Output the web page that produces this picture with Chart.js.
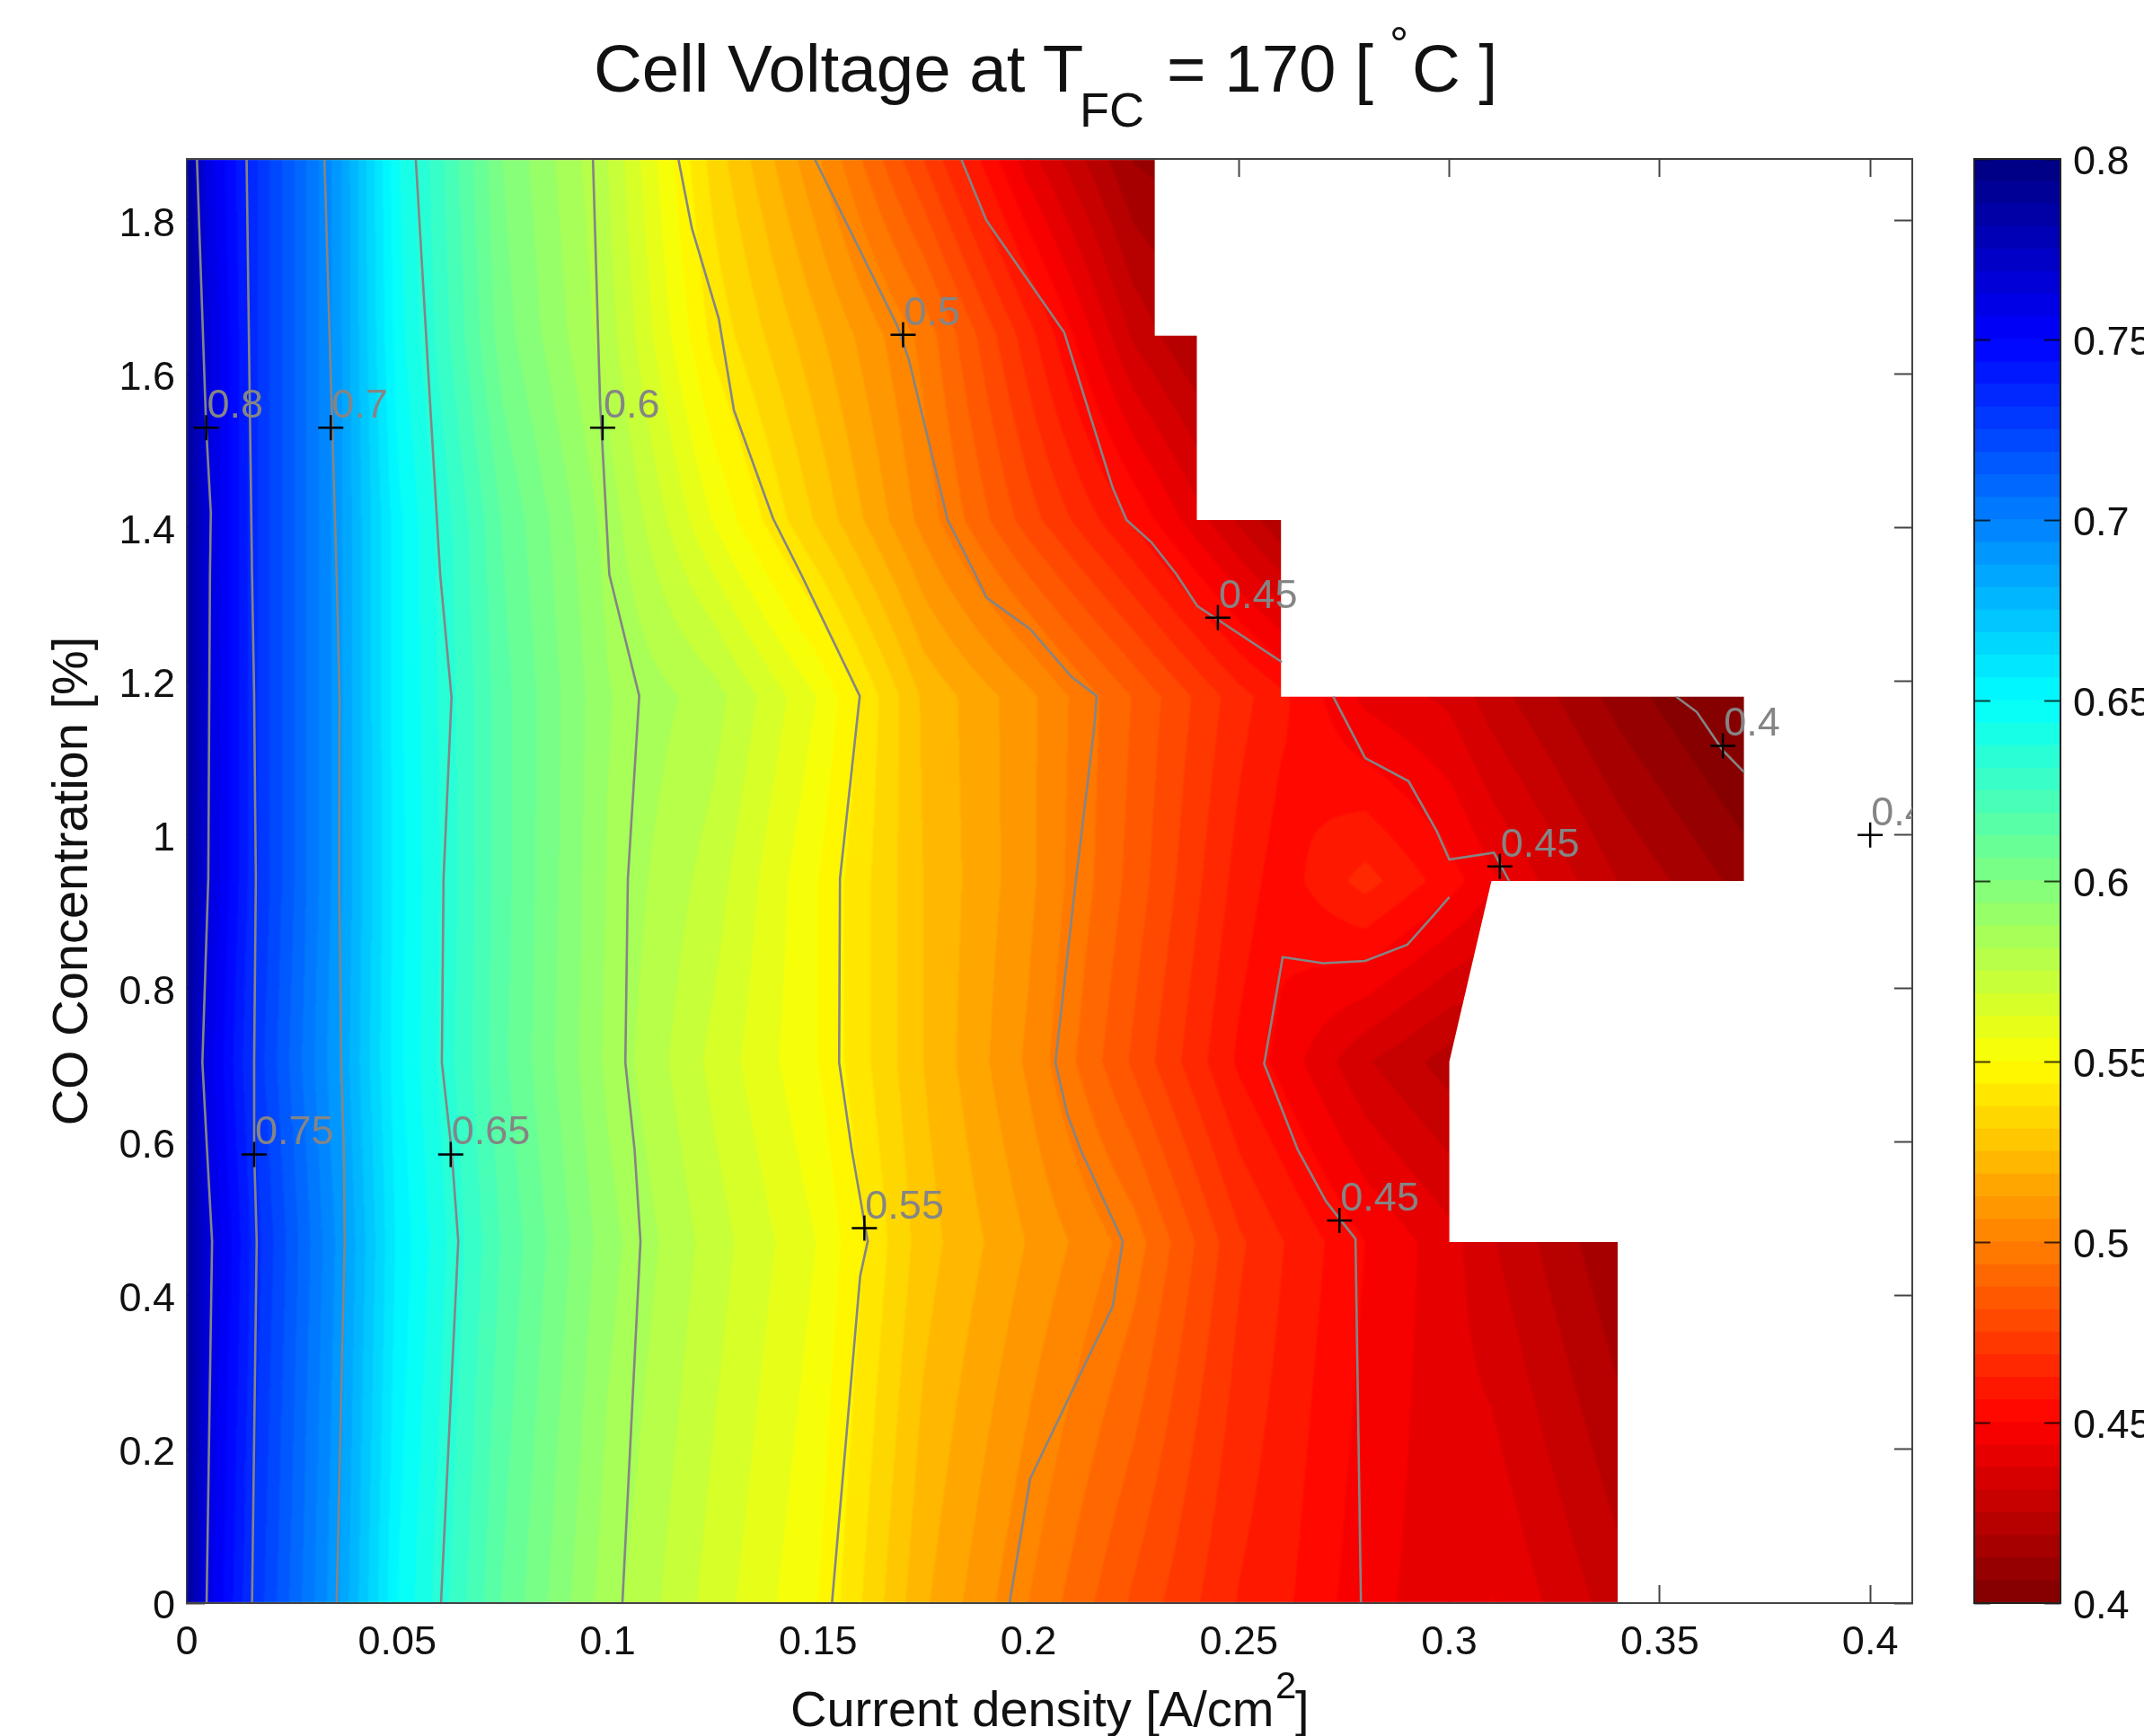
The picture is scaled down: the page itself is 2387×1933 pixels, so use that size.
<!DOCTYPE html>
<html>
<head>
<meta charset="utf-8">
<title>Cell Voltage at TFC = 170 C</title>
<script src="https://cdn.jsdelivr.net/npm/chart.js@4/dist/chart.umd.min.js"></script>
<style>
html,body{margin:0;padding:0;background:#fff;width:2387px;height:1933px;overflow:hidden;}
canvas{position:absolute;top:0;}
#contourChart{left:0;}
#colorbarChart{left:2180px;}
.txt{position:absolute;font-family:"Liberation Sans",Arial,sans-serif;color:#111;white-space:pre;line-height:normal;}
</style>
</head>
<body>
<canvas id="contourChart" width="2387" height="1933"></canvas>
<canvas id="colorbarChart" width="207" height="1933"></canvas>

<div class="txt" style="left:661px;top:34px;font-size:74.5px;">Cell Voltage at T</div>
<div class="txt" style="left:1202px;top:91px;font-size:54px;">FC</div>
<div class="txt" style="left:1299px;top:34px;font-size:74.5px;">= 170 [</div>
<div class="txt" style="left:1547px;top:19px;font-size:53px;">°</div>
<div class="txt" style="left:1572px;top:34px;font-size:74.5px;">C ]</div>

<div class="txt" style="left:880px;top:1870px;font-size:56px;">Current density [A/cm</div>
<div class="txt" style="left:1420px;top:1853px;font-size:42px;">2</div>
<div class="txt" style="left:1442px;top:1870px;font-size:56px;">]</div>

<script>
//current density columns of the voltage table
var currentDensity=[0,.005,.016,.036,.05,.075,.10,.125,.15,.175,.20,.225,.25,.26,.28,.30,.31,.34,.37];
//CO concentration rows of the voltage table
var coConcentration=[0,.47,.705,.94,1.18,1.41,1.65,1.88];
var voltageCo000=[.79,.76,.73,.688,.65,.612,.584,.566,.55,.52,.50,.48,.462,.458,.446,.44,.444,.428,.428];
var voltageCo047=[.79,.765,.735,.692,.655,.618,.59,.572,.556,.528,.512,.497,.47,.463,.45,.44,.432,.413,.413];
var voltageCo070=[.79,.76,.73,.688,.652,.614,.586,.567,.55,.525,.505,.48,.455,.448,.432,.422,.422,.422,.422];
var voltageCo094=[.79,.765,.733,.69,.653,.615,.587,.572,.55,.525,.508,.485,.46,.453,.465,.453,.445,.425,.41];
var voltageCo118=[.79,.765,.733,.69,.652,.615,.588,.578,.556,.524,.508,.487,.465,.458,.442,.436,.428,.41,.395];
var voltageCo141=[.79,.765,.733,.69,.652,.612,.585,.556,.53,.504,.478,.455,.43,.42,.41,.41,.41,.41,.41];
var voltageCo165=[.79,.765,.733,.69,.647,.603,.578,.542,.52,.498,.465,.43,.41,.41,.41,.41,.41,.41,.41];
var voltageCo188=[.79,.76,.733,.69,.645,.60,.575,.535,.507,.475,.44,.412,.405,.405,.405,.405,.405,.405,.405];
var voltageRows=[voltageCo000,voltageCo047,voltageCo070,voltageCo094,voltageCo118,voltageCo141,voltageCo165,voltageCo188];

//outline of the measured area, everything outside stays white
var measuredArea=[[0,0],[.34,0],[.34,.47],[.30,.47],[.30,.705],[.31,.94],[.37,.94],[.37,1.18],[.26,1.18],[.26,1.41],[.24,1.41],[.24,1.65],[.23,1.65],[.23,1.88],[0,1.88]];

//contour lines
var contour080=[[.0047,0],[.006,.471],[.0048,.59],[.0037,.704],[.0051,.943],[.0055,1.339],[.0057,1.42],[.0046,1.53],[.0024,1.88]];
var contour075=[[.0155,0],[.0166,.471],[.016,.59],[.016,.704],[.0164,.943],[.016,1.18],[.0155,1.339],[.0142,1.88]];
var contour070=[[.0356,0],[.0375,.471],[.0373,.59],[.0367,.704],[.0362,.943],[.0363,1.18],[.0356,1.339],[.0327,1.88]];
var contour065=[[.0604,0],[.0645,.471],[.0629,.59],[.0606,.704],[.061,.943],[.0629,1.179],[.0602,1.339],[.0544,1.88]];
var contour060=[[.1035,0],[.1078,.471],[.1064,.59],[.1042,.704],[.1048,.943],[.1075,1.181],[.1004,1.339],[.0982,1.563],[.0965,1.88]];
var contour055=[[.1533,0],[.16,.426],[.1618,.471],[.158,.59],[.155,.704],[.1552,.943],[.1599,1.181],[.146,1.339],[.1393,1.412],[.13,1.553],[.1264,1.672],[.12,1.79],[.1168,1.88]];
var contour050=[[.1955,0],[.2004,.162],[.22,.386],[.2224,.471],[.2124,.59],[.2092,.637],[.2064,.704],[.2113,.943],[.2156,1.139],[.2162,1.181],[.2102,1.206],[.2004,1.268],[.19,1.309],[.1874,1.339],[.1808,1.41],[.1716,1.618],[.1688,1.663],[.1492,1.88]];
var contour045low=[[.279,0],[.2777,.474],[.2707,.523],[.264,.59],[.256,.702],[.2604,.841],[.27,.833],[.28,.836],[.29,.857],[.297,.90],[.30,.919]];
var contour045mid=[[.2724,1.18],[.28,1.10],[.2903,1.07],[.297,1.005],[.30,.968],[.3106,.977],[.3142,.94]];
var contour045top=[[.184,1.88],[.19,1.80],[.2085,1.654],[.22,1.452],[.2233,1.41],[.2292,1.381],[.2352,1.339],[.2401,1.298],[.2602,1.225]];
var contour040=[[.3539,1.18],[.3588,1.16],[.365,1.11],[.37,1.082]];
var contourLines=[contour080,contour075,contour070,contour065,contour060,contour055,contour050,contour045low,contour045mid,contour045top,contour040];

//contour labels and the + that marks each of them
var labelX=[.0046,.0342,.0988,.1702,.245,.365,.312,.4,.016,.0627,.161,.2739];
var labelY=[1.53,1.53,1.53,1.651,1.283,1.116,.959,1.0,.584,.584,.488,.498];
var labelText=["0.8","0.7","0.6","0.5","0.45","0.4","0.45","0.4","0.75","0.65","0.55","0.45"];

//tick settings of the axes
var xMax=.41;
var yMax=1.88;
var voltageMin=.4;
var voltageMax=.8;
var levelCount=64;

var fontName='"Liberation Sans", Arial, sans-serif';

function clamp01(a){
    return Math.max(0,Math.min(1,a));
}

//flipped jet colormap, low voltage dark red and high voltage dark blue
function jetColor(level){
    var p=1-(level+.5)/levelCount;
    return [
        Math.round(255*clamp01(1.5-Math.abs(4*p-3))),
        Math.round(255*clamp01(1.5-Math.abs(4*p-2))),
        Math.round(255*clamp01(1.5-Math.abs(4*p-1)))
    ];
}

function findSlot(list,value){
    for(var i=0;i<list.length-2;i++){
        if(value<list[i+1]){
            return i;
        }
    }
    return list.length-2;
}

//voltage at a position inside the table
function voltageAt(x,y){
    var i=findSlot(currentDensity,x);
    var j=findSlot(coConcentration,y);
    var u=(x-currentDensity[i])/(currentDensity[i+1]-currentDensity[i]);
    var v=(y-coConcentration[j])/(coConcentration[j+1]-coConcentration[j]);
    var low=voltageRows[j][i]*(1-u)+voltageRows[j][i+1]*u;
    var high=voltageRows[j+1][i]*(1-u)+voltageRows[j+1][i+1]*u;
    return low*(1-v)+high*v;
}

//paints the filled contour surface below the lines
var surfacePlugin={
    id:"surface",
    beforeDatasetsDraw:function(chart){
        var area=chart.chartArea;
        var xs=chart.scales.x;
        var ys=chart.scales.y;
        var w=Math.ceil(area.right-area.left);
        var h=Math.ceil(area.bottom-area.top);
        var off=document.createElement("canvas");
        off.width=w;
        off.height=h;
        var offCtx=off.getContext("2d");
        var img=offCtx.createImageData(w,h);
        var colors=[];
        for(var c=0;c<levelCount;c++){
            colors.push(jetColor(c));
        }
        var xValues=[];
        for(var px=0;px<w;px++){
            xValues.push(xs.getValueForPixel(area.left+px+.5));
        }
        for(var py=0;py<h;py++){
            var yValue=ys.getValueForPixel(area.top+py+.5);
            for(var qx=0;qx<w;qx++){
                var volt=voltageAt(xValues[qx],yValue);
                var level=Math.floor((volt-voltageMin)/(voltageMax-voltageMin)*levelCount);
                level=Math.max(0,Math.min(levelCount-1,level));
                var k=(py*w+qx)*4;
                img.data[k]=colors[level][0];
                img.data[k+1]=colors[level][1];
                img.data[k+2]=colors[level][2];
                img.data[k+3]=255;
            }
        }
        offCtx.putImageData(img,0,0);
        var ctx=chart.ctx;
        ctx.save();
        ctx.beginPath();
        for(var n=0;n<measuredArea.length;n++){
            var ax=xs.getPixelForValue(measuredArea[n][0]);
            var ay=ys.getPixelForValue(measuredArea[n][1]);
            if(n==0){
                ctx.moveTo(ax,ay);
            }
            else{
                ctx.lineTo(ax,ay);
            }
        }
        ctx.closePath();
        ctx.clip();
        ctx.filter="blur(1px)";
        ctx.drawImage(off,area.left,area.top);
        ctx.restore();
    }
};

//contour labels, cut off at the plot border like the 0.4 on the right
var labelPlugin={
    id:"contourLabels",
    afterDatasetsDraw:function(chart){
        var area=chart.chartArea;
        var ctx=chart.ctx;
        ctx.save();
        ctx.beginPath();
        ctx.rect(area.left,area.top,area.right-area.left,area.bottom-area.top);
        ctx.clip();
        ctx.font="45px "+fontName;
        ctx.fillStyle="#858585";
        ctx.textAlign="left";
        ctx.textBaseline="alphabetic";
        for(var i=0;i<labelText.length;i++){
            var x=chart.scales.x.getPixelForValue(labelX[i]);
            var y=chart.scales.y.getPixelForValue(labelY[i]);
            ctx.fillText(labelText[i],x+1,y-11);
        }
        ctx.restore();
    }
};

function toPoints(list){
    var points=[];
    for(var i=0;i<list.length;i++){
        points.push({x:list[i][0],y:list[i][1]});
    }
    return points;
}

function tickText(value){
    return String(Number(value.toFixed(2)));
}

function createContourChart(){
    var datasets=[];
    var markers=[];
    for(var i=0;i<labelX.length;i++){
        markers.push({x:labelX[i],y:labelY[i]});
    }
    datasets.push({
        label:"labels",
        data:markers,
        showLine:false,
        pointStyle:"cross",
        pointRadius:14,
        pointBorderColor:"#000",
        pointBorderWidth:2.5,
        pointBackgroundColor:"#000"
    });
    for(var c=0;c<contourLines.length;c++){
        datasets.push({
            label:"contour "+c,
            data:toPoints(contourLines[c]),
            showLine:true,
            pointRadius:0,
            borderColor:"#858585",
            borderWidth:2.6,
            tension:0
        });
    }
    var axisColor="#444";
    function innerGrid(){
        return {drawOnChartArea:false,drawTicks:true,tickLength:-20,tickColor:axisColor,tickWidth:2};
    }
    var axisBorder={color:axisColor,width:2,z:1};
    new Chart(document.getElementById("contourChart"),{
        type:"scatter",
        data:{datasets:datasets},
        plugins:[surfacePlugin,labelPlugin],
        options:{
            responsive:false,
            animation:false,
            devicePixelRatio:1,
            layout:{padding:{left:0,right:258,top:177,bottom:0}},
            plugins:{legend:{display:false},tooltip:{enabled:false},title:{display:false}},
            scales:{
                x:{
                    type:"linear",position:"bottom",min:0,max:xMax,
                    grid:innerGrid(),border:axisBorder,
                    ticks:{stepSize:.05,includeBounds:false,padding:38,maxRotation:0,autoSkip:false,color:"#111",font:{family:fontName,size:45},callback:tickText},
                    afterFit:function(scale){scale.height=148;}
                },
                y:{
                    type:"linear",position:"left",min:0,max:yMax,
                    grid:innerGrid(),border:{color:axisColor,width:2},
                    ticks:{stepSize:.2,includeBounds:false,padding:33,labelOffset:5,autoSkip:false,color:"#111",font:{family:fontName,size:45},callback:tickText},
                    title:{display:true,text:"CO Concentration [%]",color:"#111",font:{family:fontName,size:56},padding:{top:48,bottom:0}},
                    afterFit:function(scale){scale.width=208;}
                },
                xTop:{
                    type:"linear",position:"top",axis:"x",min:0,max:xMax,
                    grid:innerGrid(),border:axisBorder,
                    ticks:{stepSize:.05,includeBounds:false,display:false},
                    afterFit:function(scale){scale.height=0;}
                },
                yRight:{
                    type:"linear",position:"right",axis:"y",min:0,max:yMax,
                    grid:innerGrid(),border:{color:axisColor,width:2},
                    ticks:{stepSize:.2,includeBounds:false,display:false},
                    afterFit:function(scale){scale.width=0;}
                }
            }
        }
    });
}

//frame around the colour bar
var framePlugin={
    id:"frame",
    afterDraw:function(chart){
        var area=chart.chartArea;
        var ctx=chart.ctx;
        ctx.save();
        ctx.strokeStyle="#222";
        ctx.lineWidth=2;
        ctx.strokeRect(area.left,area.top,area.right-area.left,area.bottom-area.top);
        ctx.restore();
    }
};

function createColorbar(){
    var datasets=[];
    var step=(voltageMax-voltageMin)/levelCount;
    for(var c=0;c<levelCount;c++){
        var rgb=jetColor(c);
        datasets.push({
            data:[[voltageMin+c*step,voltageMin+(c+1)*step+.0001]],
            backgroundColor:"rgb("+rgb[0]+","+rgb[1]+","+rgb[2]+")",
            borderWidth:0,
            barPercentage:1,
            categoryPercentage:1
        });
    }
    function barGrid(){
        return {drawOnChartArea:false,drawTicks:true,tickLength:-18,tickColor:"rgba(0,0,0,.75)",tickWidth:2,z:1};
    }
    new Chart(document.getElementById("colorbarChart"),{
        type:"bar",
        data:{labels:[""],datasets:datasets},
        plugins:[framePlugin],
        options:{
            responsive:false,
            animation:false,
            devicePixelRatio:1,
            layout:{padding:{left:0,right:0,top:177,bottom:148}},
            plugins:{legend:{display:false},tooltip:{enabled:false},title:{display:false}},
            scales:{
                x:{stacked:true,display:false},
                y:{
                    position:"right",min:voltageMin,max:voltageMax,
                    grid:barGrid(),border:{display:false},
                    ticks:{stepSize:.05,includeBounds:false,padding:32,labelOffset:5,autoSkip:false,color:"#111",font:{family:fontName,size:45},callback:tickText},
                    afterFit:function(scale){scale.width=93;}
                },
                yLeft:{
                    position:"left",axis:"y",min:voltageMin,max:voltageMax,
                    grid:barGrid(),border:{display:false},
                    ticks:{stepSize:.05,includeBounds:false,display:false},
                    afterFit:function(scale){scale.width=18;}
                }
            }
        }
    });
}

createContourChart();
createColorbar();
</script>
</body>
</html>
